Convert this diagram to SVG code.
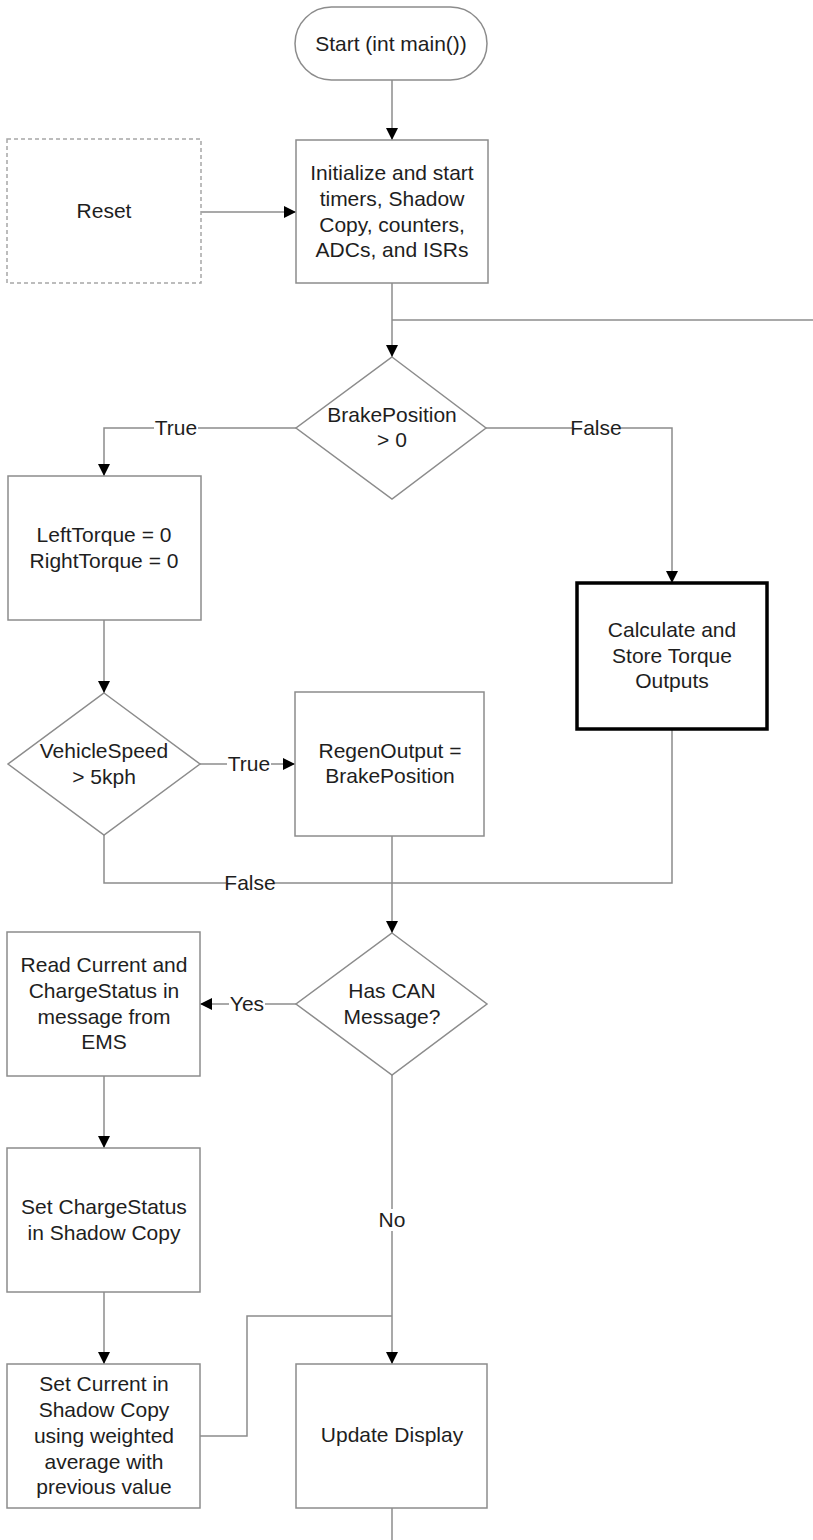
<svg xmlns="http://www.w3.org/2000/svg" width="813" height="1540" viewBox="0 0 813 1540">
  <style>
    .box { fill: #ffffff; stroke: #8c8c8c; stroke-width: 1.5; }
    .bold { fill: #ffffff; stroke: #000000; stroke-width: 3.5; }
    .dash { fill: #ffffff; stroke: #a6a6a6; stroke-width: 1.5; stroke-dasharray: 4 3; }
    .line { fill: none; stroke: #8c8c8c; stroke-width: 1.5; }
    .arrow { marker-end: url(#head); }
    text { font-family: "Liberation Sans", Arial, sans-serif; font-size: 21px; fill: #1e1e1e; text-anchor: middle; }
    .lbl { fill: #ffffff; stroke: none; }
  </style>
  <defs>
    <marker id="head" viewBox="0 0 12 12" markerWidth="12" markerHeight="12" refX="12" refY="6" orient="auto" markerUnits="userSpaceOnUse">
      <path d="M0,0 L12,6 L0,12 Z" fill="#000000"/>
    </marker>
  </defs>
  <rect width="813" height="1540" fill="#ffffff"/>

  <!-- connectors -->
  <g id="connectors">
    <path class="line arrow" d="M392,80 V140"/>
    <path class="line arrow" d="M201,212 H296"/>
    <path class="line arrow" d="M392,283 V357"/>
    <path class="line" d="M392,320 H813"/>
    <path class="line arrow" d="M296,428 H104 V476"/>
    <path class="line arrow" d="M486,428 H672 V583"/>
    <path class="line arrow" d="M104,620 V693"/>
    <path class="line arrow" d="M200,764 H295"/>
    <path class="line" d="M104,835 V883 H672 V729"/>
    <path class="line arrow" d="M392,836 V933"/>
    <path class="line arrow" d="M296,1004 H200"/>
    <path class="line arrow" d="M104,1076 V1148"/>
    <path class="line arrow" d="M104,1292 V1364"/>
    <path class="line" d="M200,1436 H247 V1316 H392"/>
    <path class="line arrow" d="M392,1075 V1364"/>
    <path class="line" d="M392,1508 V1540"/>

    <!-- connector labels -->
    <rect class="lbl" x="154" y="417" width="44" height="22"/>
    <text x="176" y="435">True</text>
    <rect class="lbl" x="572" y="417" width="48" height="22"/>
    <text x="596" y="435">False</text>
    <rect class="lbl" x="227" y="753" width="44" height="22"/>
    <text x="249" y="771">True</text>
    <rect class="lbl" x="226" y="872" width="48" height="22"/>
    <text x="250" y="890">False</text>
    <rect class="lbl" x="229" y="993" width="36" height="22"/>
    <text x="247" y="1011">Yes</text>
    <rect class="lbl" x="378" y="1209" width="28" height="22"/>
    <text x="392" y="1227">No</text>
  </g>

  <g id="start">
    <rect class="box" x="295" y="7" width="192" height="73" rx="36.5" ry="36.5"/>
    <text x="391" y="51">Start (int main())</text>
  </g>

  <g id="reset">
    <rect class="dash" x="7" y="139" width="194" height="144"/>
    <text x="104" y="218">Reset</text>
  </g>

  <g id="init">
    <rect class="box" x="296" y="140" width="192" height="143"/>
    <text x="392" y="180">Initialize and start</text>
    <text x="392" y="206">timers, Shadow</text>
    <text x="392" y="232">Copy, counters,</text>
    <text x="392" y="257">ADCs, and ISRs</text>
  </g>

  <g id="brake-check">
    <polygon class="box" points="392,357 486,428 392,499 296,428"/>
    <text x="392" y="422">BrakePosition</text>
    <text x="392" y="447">&gt; 0</text>
  </g>

  <g id="zero-torque">
    <rect class="box" x="8" y="476" width="193" height="144"/>
    <text x="104" y="542">LeftTorque = 0</text>
    <text x="104" y="568">RightTorque = 0</text>
  </g>

  <g id="calc-torque">
    <rect class="bold" x="577" y="583" width="190" height="146"/>
    <text x="672" y="637">Calculate and</text>
    <text x="672" y="663">Store Torque</text>
    <text x="672" y="688">Outputs</text>
  </g>

  <g id="speed-check">
    <polygon class="box" points="104,693 200,764 104,835 8,764"/>
    <text x="104" y="758">VehicleSpeed</text>
    <text x="104" y="784">&gt; 5kph</text>
  </g>

  <g id="regen">
    <rect class="box" x="295" y="692" width="189" height="144"/>
    <text x="390" y="758">RegenOutput =</text>
    <text x="390" y="783">BrakePosition</text>
  </g>

  <g id="can-check">
    <polygon class="box" points="392,933 487,1004 392,1075 296,1004"/>
    <text x="392" y="998">Has CAN</text>
    <text x="392" y="1024">Message?</text>
  </g>

  <g id="read-msg">
    <rect class="box" x="7" y="932" width="193" height="144"/>
    <text x="104" y="972">Read Current and</text>
    <text x="104" y="998">ChargeStatus in</text>
    <text x="104" y="1024">message from</text>
    <text x="104" y="1049">EMS</text>
  </g>

  <g id="set-charge">
    <rect class="box" x="7" y="1148" width="193" height="144"/>
    <text x="104" y="1214">Set ChargeStatus</text>
    <text x="104" y="1240">in Shadow Copy</text>
  </g>

  <g id="set-current">
    <rect class="box" x="7" y="1364" width="193" height="144"/>
    <text x="104" y="1391">Set Current in</text>
    <text x="104" y="1417">Shadow Copy</text>
    <text x="104" y="1443">using weighted</text>
    <text x="104" y="1469">average with</text>
    <text x="104" y="1494">previous value</text>
  </g>

  <g id="update-display">
    <rect class="box" x="296" y="1364" width="191" height="144"/>
    <text x="392" y="1442">Update Display</text>
  </g>
</svg>
